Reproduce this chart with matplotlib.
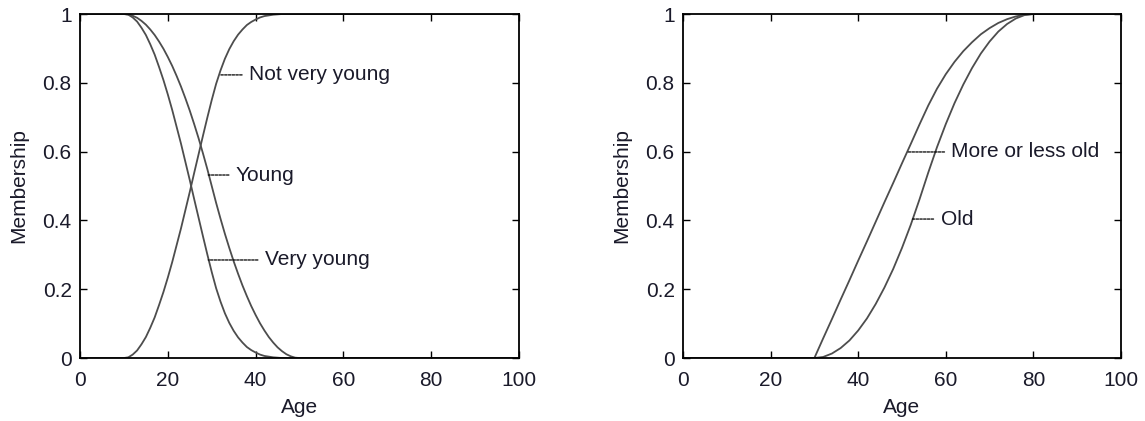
import matplotlib
matplotlib.use("Agg")
import matplotlib.pyplot as plt

plt.rcParams['font.family'] = ['Liberation Sans', 'DejaVu Sans']

# left panel: ages 0, then 10..50 every year, then 100
age_left = [0] + list(range(10, 51)) + [100]
young = [1,
         1, 0.999, 0.995, 0.989, 0.98, 0.969, 0.955, 0.939, 0.92, 0.899,
         0.875, 0.849, 0.82, 0.789, 0.755, 0.719, 0.68, 0.639, 0.595, 0.549,
         0.5, 0.451, 0.405, 0.361, 0.32, 0.281, 0.245, 0.211, 0.18, 0.151,
         0.125, 0.101, 0.08, 0.061, 0.045, 0.031, 0.02, 0.011, 0.005, 0.001,
         0, 0]
very_young = [1,
              1, 0.998, 0.990, 0.978, 0.960, 0.939, 0.912, 0.882, 0.846, 0.808,
              0.766, 0.721, 0.672, 0.623, 0.570, 0.517, 0.462, 0.408, 0.354, 0.301,
              0.25, 0.203, 0.164, 0.130, 0.102, 0.079, 0.060, 0.045, 0.032, 0.023,
              0.016, 0.010, 0.006, 0.004, 0.002, 0.001, 0, 0, 0, 0,
              0, 0]
not_very_young = [0,
                  0, 0.002, 0.010, 0.022, 0.040, 0.061, 0.088, 0.118, 0.154, 0.192,
                  0.234, 0.279, 0.328, 0.377, 0.430, 0.483, 0.538, 0.592, 0.646, 0.699,
                  0.75, 0.797, 0.836, 0.870, 0.898, 0.921, 0.940, 0.955, 0.968, 0.977,
                  0.984, 0.990, 0.994, 0.996, 0.998, 0.999, 1, 1, 1, 1,
                  1, 1]

# right panel: ages 0, then 30..80 every 2 years, then 100
age_right = [0] + list(range(30, 81, 2)) + [100]
old = [0,
       0, 0.003, 0.013, 0.029, 0.051, 0.08, 0.115, 0.157, 0.205, 0.259,
       0.32, 0.387, 0.461, 0.539, 0.613, 0.68, 0.741, 0.795, 0.843, 0.885,
       0.92, 0.949, 0.971, 0.987, 0.997, 1,
       1]
more_or_less_old = [0,
                    0, 0.057, 0.113, 0.170, 0.226, 0.283, 0.339, 0.396, 0.453, 0.509,
                    0.566, 0.622, 0.679, 0.734, 0.783, 0.825, 0.861, 0.892, 0.918, 0.941,
                    0.959, 0.974, 0.985, 0.993, 0.998, 1,
                    1]

# label: (point on curve, text position)
left_notes = [("Not very young", (31.9, 0.823), (38.5, 0.823)),
              ("Young", (29.2, 0.532), (35.5, 0.532)),
              ("Very young", (29.2, 0.285), (42.1, 0.285))]
right_notes = [("More or less old", (51.3, 0.599), (61.3, 0.599)),
               ("Old", (52.4, 0.404), (58.8, 0.404))]

fig = plt.figure(figsize=(11.45, 4.21), dpi=100)
ax1 = fig.add_axes([0.0699, 0.1496, 0.3834, 0.8171])
ax2 = fig.add_axes([0.5965, 0.1496, 0.3825, 0.8171])

lc = '#4d4d4d'
ax1.plot(age_left, young, color=lc, lw=1.3)
ax1.plot(age_left, very_young, color=lc, lw=1.3)
ax1.plot(age_left, not_very_young, color=lc, lw=1.3)
ax2.plot(age_right, old, color=lc, lw=1.3)
ax2.plot(age_right, more_or_less_old, color=lc, lw=1.3)

for ax, notes in ((ax1, left_notes), (ax2, right_notes)):
    for label, pt, txt in notes:
        ax.annotate(label, xy=pt, xytext=txt, fontsize=15, va='center',
                    ha='left', color='#1a1a2a',
                    arrowprops=dict(arrowstyle='-', linestyle=(0, (2, 1)),
                                    color='black', lw=0.9,
                                    shrinkA=3, shrinkB=0))
    ax.set_xlim(0, 100)
    ax.set_ylim(0, 1)
    ax.set_xticks([0, 20, 40, 60, 80, 100])
    ax.set_yticks([0, 0.2, 0.4, 0.6, 0.8, 1])
    ax.set_yticklabels(['0', '0.2', '0.4', '0.6', '0.8', '1'])
    ax.tick_params(direction='in', top=True, right=True, labelsize=15,
                   length=5, width=1, pad=6, labelcolor='#1a1a2a')
    ax.tick_params(axis='x', pad=9)
    for s in ax.spines.values():
        s.set_linewidth(1.3)
    ax.set_xlabel('Age', fontsize=15, labelpad=6, color='#1a1a2a')
    ax.set_ylabel('Membership', fontsize=15, labelpad=10, color='#1a1a2a')

fig.savefig('out.png', dpi=100)
